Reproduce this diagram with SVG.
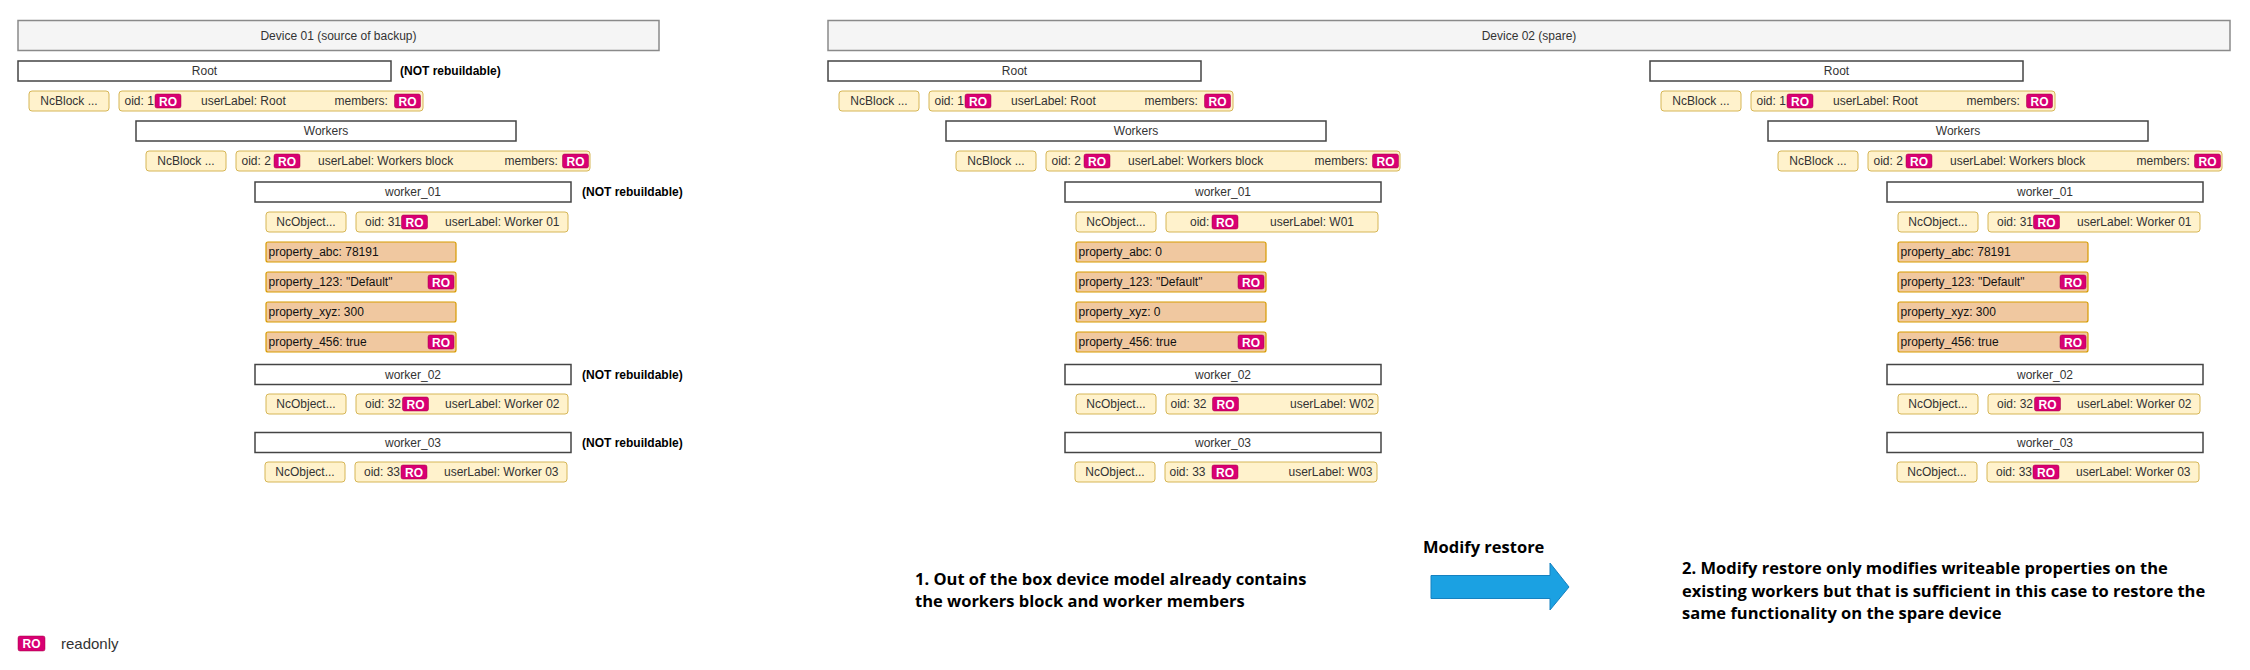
<svg xmlns="http://www.w3.org/2000/svg" width="2250" height="670" viewBox="0 0 2250 670">
<style>
text{font-family:"Liberation Sans",Arial,Helvetica,sans-serif;font-size:12px;fill:#333}
.c{text-anchor:middle}
.e{text-anchor:end}
.hdr{fill:#f5f5f5;stroke:#8a8a8a;stroke-width:1.5}
.box{fill:#fff;stroke:#444;stroke-width:1.5}
.y{fill:#fff2cc;stroke:#d6b656;stroke-width:1}
.p{fill:#f0c8a0;stroke:#d79b00;stroke-width:1.2}
.ro{fill:#d80073;stroke:#a50040;stroke-width:0.5}
.rt{fill:#fff;font-weight:bold;text-anchor:middle}
.pt{fill:#111}
.nb{fill:#000;font-weight:bold}
.big{font-family:"Open Sans","Noto Sans","DejaVu Sans",sans-serif;font-weight:bold;font-size:16.5px;fill:#000}
.arrow{fill:#1ba1e2;stroke:#1581c0;stroke-width:1}
</style>
<defs>
<g id="ro"><rect class="ro" x="0" y="0" width="26" height="14" rx="2"/><text class="rt" x="13" y="11.5">RO</text></g>
</defs>

<g id="device01">
<rect class="hdr" x="18" y="20.5" width="641" height="30"/>
<text class="c" x="338.5" y="40">Device 01 (source of backup)</text>
</g>
<g id="device02">
<rect class="hdr" x="828" y="20.5" width="1402" height="30"/>
<text class="c" x="1529" y="40">Device 02 (spare)</text>
</g>

<g id="col1">
<g id="d1-root"><rect class="box" x="18" y="61" width="373" height="20"/><text class="c" x="204.5" y="75">Root</text></g>
<g id="d1-root-class"><rect class="y" x="29" y="91" width="80" height="20" rx="3"/><text class="c" x="69" y="105">NcBlock ...</text></g>
<g id="d1-root-props"><rect class="y" x="119" y="91" width="304" height="20" rx="3"/><text x="124.5" y="105">oid: 1</text><use href="#ro" x="155" y="94"/><text x="201" y="105">userLabel: Root</text><text x="334.5" y="105">members:</text><use href="#ro" x="394.5" y="94"/></g>
<g id="d1-workers"><rect class="box" x="136" y="121" width="380" height="20"/><text class="c" x="326" y="135">Workers</text></g>
<g id="d1-workers-class"><rect class="y" x="146" y="151" width="80" height="20" rx="3"/><text class="c" x="186" y="165">NcBlock ...</text></g>
<g id="d1-workers-props"><rect class="y" x="236" y="151" width="354" height="20" rx="3"/><text x="241.5" y="165">oid: 2</text><use href="#ro" x="274" y="154"/><text x="318" y="165">userLabel: Workers block</text><text x="504.5" y="165">members:</text><use href="#ro" x="562.5" y="154"/></g>
<g id="d1-worker01"><rect class="box" x="255" y="182" width="316" height="20"/><text class="c" x="413" y="196">worker_01</text></g>
<g id="d1-worker01-class"><rect class="y" x="266" y="212" width="80" height="20" rx="3"/><text class="c" x="306" y="226">NcObject...</text></g>
<g id="d1-worker01-props"><rect class="y" x="356" y="212" width="212" height="20" rx="3"/><text x="365" y="226">oid: 31</text><use href="#ro" x="401.5" y="215"/><text x="445" y="226">userLabel: Worker 01</text></g>
<g id="d1-prop-abc"><rect class="p" x="266" y="242" width="190" height="20" rx="2"/><text class="pt" x="268.5" y="256">property_abc: 78191</text></g>
<g id="d1-prop-123"><rect class="p" x="266" y="272" width="190" height="20" rx="2"/><text class="pt" x="268.5" y="286">property_123: "Default"</text><use href="#ro" x="428" y="275"/></g>
<g id="d1-prop-xyz"><rect class="p" x="266" y="302" width="190" height="20" rx="2"/><text class="pt" x="268.5" y="316">property_xyz: 300</text></g>
<g id="d1-prop-456"><rect class="p" x="266" y="332" width="190" height="20" rx="2"/><text class="pt" x="268.5" y="346">property_456: true</text><use href="#ro" x="428" y="335"/></g>
<g id="d1-worker02"><rect class="box" x="255" y="364.5" width="316" height="20"/><text class="c" x="413" y="378.5">worker_02</text></g>
<g id="d1-worker02-class"><rect class="y" x="266" y="394" width="80" height="20" rx="3"/><text class="c" x="306" y="408">NcObject...</text></g>
<g id="d1-worker02-props"><rect class="y" x="356" y="394" width="212" height="20" rx="3"/><text x="365" y="408">oid: 32</text><use href="#ro" x="402.5" y="397"/><text x="445" y="408">userLabel: Worker 02</text></g>
<g id="d1-worker03"><rect class="box" x="255" y="432.5" width="316" height="20"/><text class="c" x="413" y="446.5">worker_03</text></g>
<g id="d1-worker03-class"><rect class="y" x="265" y="462" width="80" height="20" rx="3"/><text class="c" x="305" y="476">NcObject...</text></g>
<g id="d1-worker03-props"><rect class="y" x="355" y="462" width="212" height="20" rx="3"/><text x="364" y="476">oid: 33</text><use href="#ro" x="401" y="465"/><text x="444" y="476">userLabel: Worker 03</text></g>
<g id="d1-notes">
<text class="nb" x="400" y="75">(NOT rebuildable)</text>
<text class="nb" x="582" y="196">(NOT rebuildable)</text>
<text class="nb" x="582" y="378.5">(NOT rebuildable)</text>
<text class="nb" x="582" y="446.5">(NOT rebuildable)</text>
</g>
</g>

<g id="col2" transform="translate(810,0)">
<g id="d2-root"><rect class="box" x="18" y="61" width="373" height="20"/><text class="c" x="204.5" y="75">Root</text></g>
<g id="d2-root-class"><rect class="y" x="29" y="91" width="80" height="20" rx="3"/><text class="c" x="69" y="105">NcBlock ...</text></g>
<g id="d2-root-props"><rect class="y" x="119" y="91" width="304" height="20" rx="3"/><text x="124.5" y="105">oid: 1</text><use href="#ro" x="155" y="94"/><text x="201" y="105">userLabel: Root</text><text x="334.5" y="105">members:</text><use href="#ro" x="394.5" y="94"/></g>
<g id="d2-workers"><rect class="box" x="136" y="121" width="380" height="20"/><text class="c" x="326" y="135">Workers</text></g>
<g id="d2-workers-class"><rect class="y" x="146" y="151" width="80" height="20" rx="3"/><text class="c" x="186" y="165">NcBlock ...</text></g>
<g id="d2-workers-props"><rect class="y" x="236" y="151" width="354" height="20" rx="3"/><text x="241.5" y="165">oid: 2</text><use href="#ro" x="274" y="154"/><text x="318" y="165">userLabel: Workers block</text><text x="504.5" y="165">members:</text><use href="#ro" x="562.5" y="154"/></g>
<g id="d2-worker01"><rect class="box" x="255" y="182" width="316" height="20"/><text class="c" x="413" y="196">worker_01</text></g>
<g id="d2-worker01-class"><rect class="y" x="266" y="212" width="80" height="20" rx="3"/><text class="c" x="306" y="226">NcObject...</text></g>
<g id="d2-worker01-props"><rect class="y" x="356" y="212" width="212" height="20" rx="3"/><text x="380" y="226">oid:</text><use href="#ro" x="402" y="215"/><text x="460" y="226">userLabel: W01</text></g>
<g id="d2-prop-abc"><rect class="p" x="266" y="242" width="190" height="20" rx="2"/><text class="pt" x="268.5" y="256">property_abc: 0</text></g>
<g id="d2-prop-123"><rect class="p" x="266" y="272" width="190" height="20" rx="2"/><text class="pt" x="268.5" y="286">property_123: "Default"</text><use href="#ro" x="428" y="275"/></g>
<g id="d2-prop-xyz"><rect class="p" x="266" y="302" width="190" height="20" rx="2"/><text class="pt" x="268.5" y="316">property_xyz: 0</text></g>
<g id="d2-prop-456"><rect class="p" x="266" y="332" width="190" height="20" rx="2"/><text class="pt" x="268.5" y="346">property_456: true</text><use href="#ro" x="428" y="335"/></g>
<g id="d2-worker02"><rect class="box" x="255" y="364.5" width="316" height="20"/><text class="c" x="413" y="378.5">worker_02</text></g>
<g id="d2-worker02-class"><rect class="y" x="266" y="394" width="80" height="20" rx="3"/><text class="c" x="306" y="408">NcObject...</text></g>
<g id="d2-worker02-props"><rect class="y" x="356" y="394" width="212" height="20" rx="3"/><text x="360.5" y="408">oid: 32</text><use href="#ro" x="402.5" y="397"/><text class="e" x="564" y="408">userLabel: W02</text></g>
<g id="d2-worker03"><rect class="box" x="255" y="432.5" width="316" height="20"/><text class="c" x="413" y="446.5">worker_03</text></g>
<g id="d2-worker03-class"><rect class="y" x="265" y="462" width="80" height="20" rx="3"/><text class="c" x="305" y="476">NcObject...</text></g>
<g id="d2-worker03-props"><rect class="y" x="355" y="462" width="212" height="20" rx="3"/><text x="359.5" y="476">oid: 33</text><use href="#ro" x="402" y="465"/><text class="e" x="562.5" y="476">userLabel: W03</text></g>
</g>

<g id="col3" transform="translate(1632,0)">
<g id="d3-root"><rect class="box" x="18" y="61" width="373" height="20"/><text class="c" x="204.5" y="75">Root</text></g>
<g id="d3-root-class"><rect class="y" x="29" y="91" width="80" height="20" rx="3"/><text class="c" x="69" y="105">NcBlock ...</text></g>
<g id="d3-root-props"><rect class="y" x="119" y="91" width="304" height="20" rx="3"/><text x="124.5" y="105">oid: 1</text><use href="#ro" x="155" y="94"/><text x="201" y="105">userLabel: Root</text><text x="334.5" y="105">members:</text><use href="#ro" x="394.5" y="94"/></g>
<g id="d3-workers"><rect class="box" x="136" y="121" width="380" height="20"/><text class="c" x="326" y="135">Workers</text></g>
<g id="d3-workers-class"><rect class="y" x="146" y="151" width="80" height="20" rx="3"/><text class="c" x="186" y="165">NcBlock ...</text></g>
<g id="d3-workers-props"><rect class="y" x="236" y="151" width="354" height="20" rx="3"/><text x="241.5" y="165">oid: 2</text><use href="#ro" x="274" y="154"/><text x="318" y="165">userLabel: Workers block</text><text x="504.5" y="165">members:</text><use href="#ro" x="562.5" y="154"/></g>
<g id="d3-worker01"><rect class="box" x="255" y="182" width="316" height="20"/><text class="c" x="413" y="196">worker_01</text></g>
<g id="d3-worker01-class"><rect class="y" x="266" y="212" width="80" height="20" rx="3"/><text class="c" x="306" y="226">NcObject...</text></g>
<g id="d3-worker01-props"><rect class="y" x="356" y="212" width="212" height="20" rx="3"/><text x="365" y="226">oid: 31</text><use href="#ro" x="401.5" y="215"/><text x="445" y="226">userLabel: Worker 01</text></g>
<g id="d3-prop-abc"><rect class="p" x="266" y="242" width="190" height="20" rx="2"/><text class="pt" x="268.5" y="256">property_abc: 78191</text></g>
<g id="d3-prop-123"><rect class="p" x="266" y="272" width="190" height="20" rx="2"/><text class="pt" x="268.5" y="286">property_123: "Default"</text><use href="#ro" x="428" y="275"/></g>
<g id="d3-prop-xyz"><rect class="p" x="266" y="302" width="190" height="20" rx="2"/><text class="pt" x="268.5" y="316">property_xyz: 300</text></g>
<g id="d3-prop-456"><rect class="p" x="266" y="332" width="190" height="20" rx="2"/><text class="pt" x="268.5" y="346">property_456: true</text><use href="#ro" x="428" y="335"/></g>
<g id="d3-worker02"><rect class="box" x="255" y="364.5" width="316" height="20"/><text class="c" x="413" y="378.5">worker_02</text></g>
<g id="d3-worker02-class"><rect class="y" x="266" y="394" width="80" height="20" rx="3"/><text class="c" x="306" y="408">NcObject...</text></g>
<g id="d3-worker02-props"><rect class="y" x="356" y="394" width="212" height="20" rx="3"/><text x="365" y="408">oid: 32</text><use href="#ro" x="402.5" y="397"/><text x="445" y="408">userLabel: Worker 02</text></g>
<g id="d3-worker03"><rect class="box" x="255" y="432.5" width="316" height="20"/><text class="c" x="413" y="446.5">worker_03</text></g>
<g id="d3-worker03-class"><rect class="y" x="265" y="462" width="80" height="20" rx="3"/><text class="c" x="305" y="476">NcObject...</text></g>
<g id="d3-worker03-props"><rect class="y" x="355" y="462" width="212" height="20" rx="3"/><text x="364" y="476">oid: 33</text><use href="#ro" x="401" y="465"/><text x="444" y="476">userLabel: Worker 03</text></g>
</g>

<g id="connectors">
<polygon class="arrow" points="1431,575.5 1550,575.5 1550,563 1569,587 1550,610 1550,598.5 1431,598.5"/>
</g>

<g id="arrow-label"><text class="big" x="1423" y="553">Modify restore</text></g>
<g id="note1">
<text class="big" x="915" y="585">1. Out of the box device model already contains</text>
<text class="big" x="915" y="607">the workers block and worker members</text>
</g>
<g id="note2">
<text class="big" x="1682" y="574">2. Modify restore only modifies writeable properties on the</text>
<text class="big" x="1682" y="596.5">existing workers but that is sufficient in this case to restore the</text>
<text class="big" x="1682" y="619">same functionality on the spare device</text>
</g>

<g id="legend">
<rect class="ro" x="18" y="636" width="27" height="15" rx="2"/>
<text class="rt" x="31.5" y="648">RO</text>
<text x="61" y="648.5" style="font-size:15px">readonly</text>
</g>
</svg>
